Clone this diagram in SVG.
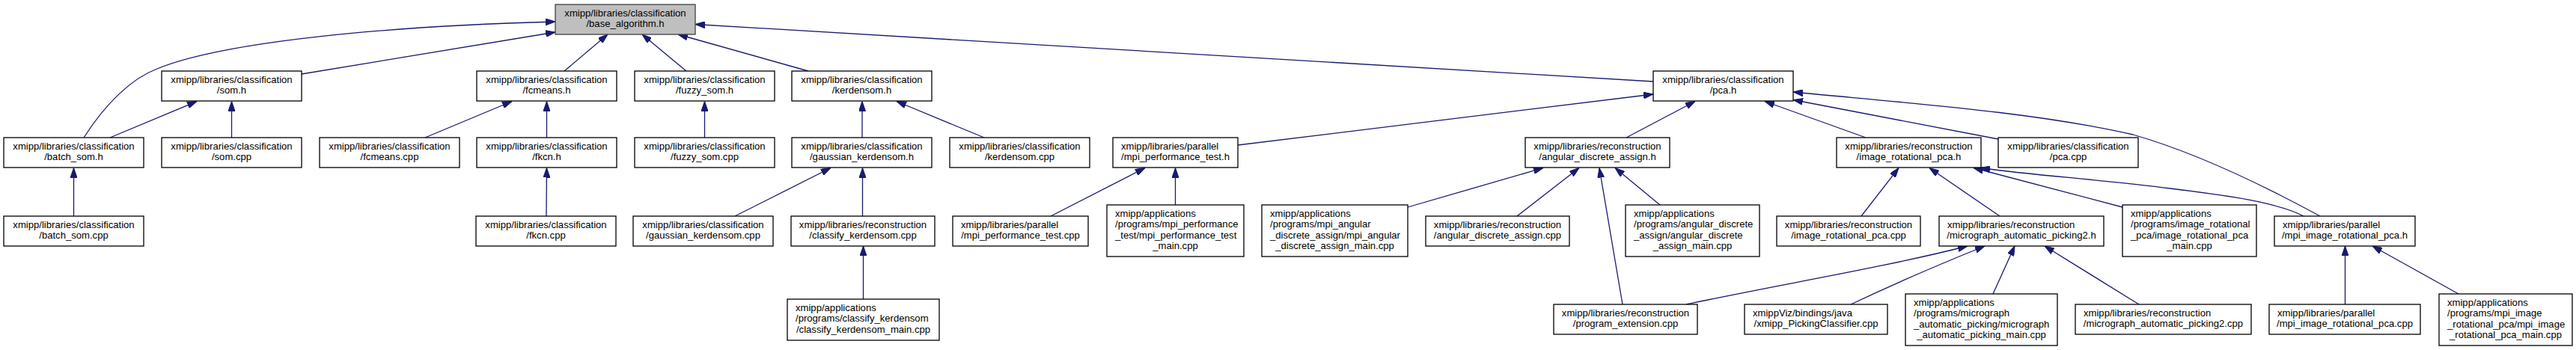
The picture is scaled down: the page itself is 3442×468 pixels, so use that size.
<svg xmlns="http://www.w3.org/2000/svg" width="3442" height="468" viewBox="0 0 3442 468">
<style>
.n rect{fill:#fff;stroke:#000;stroke-width:1.3}
#n_base rect{fill:#bfbfbf;stroke:#404040}
.n text{font-family:"Liberation Sans",Arial,sans-serif;font-size:13.1px;fill:#000}
.c{text-anchor:middle}
.e{fill:none;stroke:#191970;stroke-width:1.3;marker-end:url(#ah)}
</style>
<defs>
<marker id="ah" viewBox="0 0 13 9" refX="13" refY="4.5" markerWidth="13" markerHeight="9" markerUnits="userSpaceOnUse" orient="auto">
<path d="M0,0 L13,4.5 L0,9 z" fill="#191970" stroke="#191970" stroke-width="1"/>
</marker>
</defs>
<rect width="3442" height="468" fill="#fff"/>
<g id="connectors">
<path class="e" d="M112,184 C140,140 175,105 210,92 C300,55 520,35 742,29"/>
<path class="e" d="M403,99 L742,43"/>
<path class="e" d="M147,184 L263,135.5"/>
<path class="e" d="M309.5,184 L309.5,135.5"/>
<path class="e" d="M98.5,289 L98.5,224.5"/>
<path class="e" d="M754,95 L812,46"/>
<path class="e" d="M568,184 L684,135.5"/>
<path class="e" d="M730.5,184 L730.5,135.5"/>
<path class="e" d="M730,289 L730.5,224.5"/>
<path class="e" d="M917,95 L858,46"/>
<path class="e" d="M941.5,184 L941.5,135.5"/>
<path class="e" d="M1080,95 L906,46"/>
<path class="e" d="M1152,184 L1152,135.5"/>
<path class="e" d="M1315,184 L1198,135.5"/>
<path class="e" d="M982,289 L1110,224.5"/>
<path class="e" d="M1152.5,289 L1152.5,224.5"/>
<path class="e" d="M1153.5,400 L1153.5,329"/>
<path class="e" d="M2209,109 L929,32.5"/>
<path class="e" d="M1654,194 L2209,126"/>
<path class="e" d="M1404,289 L1530,224.5"/>
<path class="e" d="M1570.5,274 L1570.5,224.5"/>
<path class="e" d="M2173,184 L2265,135.5"/>
<path class="e" d="M1881,277 L2062,224.5"/>
<path class="e" d="M2027,289 L2110,224.5"/>
<path class="e" d="M2218,274 L2158,224.5"/>
<path class="e" d="M2168,407 L2137,224.5"/>
<path class="e" d="M2493,184 L2358,135.5"/>
<path class="e" d="M2670,186 L2396,133.5"/>
<path class="e" d="M3100,289 C3010,240 2920,200 2850,180 C2720,150 2550,138 2396,123"/>
<path class="e" d="M2487,289 L2537,224.5"/>
<path class="e" d="M2672,289 L2578,224.5"/>
<path class="e" d="M2836,277 L2637,224.5"/>
<path class="e" d="M3078,289 C3040,270 2980,262 2900,252 C2810,240 2720,235 2646,224.5"/>
<path class="e" d="M2663,393 L2692,329"/>
<path class="e" d="M2858,407 L2732,329"/>
<path class="e" d="M2253,407 C2380,380 2520,357 2629,329"/>
<path class="e" d="M2473,407 C2530,380 2600,350 2652,329"/>
<path class="e" d="M3133.5,407 L3133.5,329"/>
<path class="e" d="M3285,393 L3170,329"/>
</g>
<g id="n_base" class="n"><rect x="742" y="6" width="187" height="40"/><text class="c" x="835.5" y="21.7">xmipp/libraries/classification</text><text class="c" x="835.5" y="36.2">/base_algorithm.h</text></g>
<g id="n_som_h" class="n"><rect x="216" y="95" width="187" height="40"/><text class="c" x="309.5" y="110.7">xmipp/libraries/classification</text><text class="c" x="309.5" y="125.2">/som.h</text></g>
<g id="n_fcmeans_h" class="n"><rect x="637" y="95" width="187" height="40"/><text class="c" x="730.5" y="110.7">xmipp/libraries/classification</text><text class="c" x="730.5" y="125.2">/fcmeans.h</text></g>
<g id="n_fuzzy_som_h" class="n"><rect x="848" y="95" width="187" height="40"/><text class="c" x="941.5" y="110.7">xmipp/libraries/classification</text><text class="c" x="941.5" y="125.2">/fuzzy_som.h</text></g>
<g id="n_kerdensom_h" class="n"><rect x="1058" y="95" width="187" height="40"/><text class="c" x="1151.5" y="110.7">xmipp/libraries/classification</text><text class="c" x="1151.5" y="125.2">/kerdensom.h</text></g>
<g id="n_pca_h" class="n"><rect x="2209" y="95" width="187" height="40"/><text class="c" x="2302.5" y="110.7">xmipp/libraries/classification</text><text class="c" x="2302.5" y="125.2">/pca.h</text></g>
<g id="n_batch_som_h" class="n"><rect x="5" y="184" width="187" height="40"/><text class="c" x="98.5" y="199.7">xmipp/libraries/classification</text><text class="c" x="98.5" y="214.2">/batch_som.h</text></g>
<g id="n_som_cpp" class="n"><rect x="216" y="184" width="187" height="40"/><text class="c" x="309.5" y="199.7">xmipp/libraries/classification</text><text class="c" x="309.5" y="214.2">/som.cpp</text></g>
<g id="n_fcmeans_cpp" class="n"><rect x="427" y="184" width="187" height="40"/><text class="c" x="520.5" y="199.7">xmipp/libraries/classification</text><text class="c" x="520.5" y="214.2">/fcmeans.cpp</text></g>
<g id="n_fkcn_h" class="n"><rect x="637" y="184" width="187" height="40"/><text class="c" x="730.5" y="199.7">xmipp/libraries/classification</text><text class="c" x="730.5" y="214.2">/fkcn.h</text></g>
<g id="n_fuzzy_som_cpp" class="n"><rect x="848" y="184" width="187" height="40"/><text class="c" x="941.5" y="199.7">xmipp/libraries/classification</text><text class="c" x="941.5" y="214.2">/fuzzy_som.cpp</text></g>
<g id="n_gaussian_kerdensom_h" class="n"><rect x="1058" y="184" width="187" height="40"/><text class="c" x="1151.5" y="199.7">xmipp/libraries/classification</text><text class="c" x="1151.5" y="214.2">/gaussian_kerdensom.h</text></g>
<g id="n_kerdensom_cpp" class="n"><rect x="1269" y="184" width="187" height="40"/><text class="c" x="1362.5" y="199.7">xmipp/libraries/classification</text><text class="c" x="1362.5" y="214.2">/kerdensom.cpp</text></g>
<g id="n_mpi_perf_h" class="n"><rect x="1487" y="184" width="167" height="40"/><text x="1498" y="199.7">xmipp/libraries/parallel</text><text class="c" x="1570.5" y="214.2">/mpi_performance_test.h</text></g>
<g id="n_ang_h" class="n"><rect x="2038" y="184" width="193" height="40"/><text class="c" x="2134.5" y="199.7">xmipp/libraries/reconstruction</text><text class="c" x="2134.5" y="214.2">/angular_discrete_assign.h</text></g>
<g id="n_irp_h" class="n"><rect x="2454" y="184" width="193" height="40"/><text class="c" x="2550.5" y="199.7">xmipp/libraries/reconstruction</text><text class="c" x="2550.5" y="214.2">/image_rotational_pca.h</text></g>
<g id="n_pca_cpp" class="n"><rect x="2670" y="184" width="187" height="40"/><text class="c" x="2763.5" y="199.7">xmipp/libraries/classification</text><text class="c" x="2763.5" y="214.2">/pca.cpp</text></g>
<g id="n_batch_som_cpp" class="n"><rect x="5" y="289" width="187" height="40"/><text class="c" x="98.5" y="304.7">xmipp/libraries/classification</text><text class="c" x="98.5" y="319.2">/batch_som.cpp</text></g>
<g id="n_fkcn_cpp" class="n"><rect x="636" y="289" width="187" height="40"/><text class="c" x="729.5" y="304.7">xmipp/libraries/classification</text><text class="c" x="729.5" y="319.2">/fkcn.cpp</text></g>
<g id="n_gk_cpp" class="n"><rect x="846" y="289" width="187" height="40"/><text class="c" x="939.5" y="304.7">xmipp/libraries/classification</text><text class="c" x="939.5" y="319.2">/gaussian_kerdensom.cpp</text></g>
<g id="n_ck_cpp" class="n"><rect x="1057" y="289" width="192" height="40"/><text class="c" x="1153" y="304.7">xmipp/libraries/reconstruction</text><text class="c" x="1153" y="319.2">/classify_kerdensom.cpp</text></g>
<g id="n_mpi_perf_cpp" class="n"><rect x="1273" y="289" width="181" height="40"/><text x="1284" y="304.7">xmipp/libraries/parallel</text><text class="c" x="1363.5" y="319.2">/mpi_performance_test.cpp</text></g>
<g id="n_mpi_perf_main" class="n"><rect x="1479" y="274" width="183" height="69"/><text x="1490" y="289.7">xmipp/applications</text><text x="1490" y="304.2">/programs/mpi_performance</text><text x="1490" y="318.7">_test/mpi_performance_test</text><text class="c" x="1570.5" y="333.2">_main.cpp</text></g>
<g id="n_mpi_ang_main" class="n"><rect x="1686" y="274" width="195" height="69"/><text x="1697" y="289.7">xmipp/applications</text><text x="1697" y="304.2">/programs/mpi_angular</text><text x="1697" y="318.7">_discrete_assign/mpi_angular</text><text class="c" x="1783.5" y="333.2">_discrete_assign_main.cpp</text></g>
<g id="n_ang_cpp" class="n"><rect x="1905" y="289" width="192" height="40"/><text class="c" x="2001" y="304.7">xmipp/libraries/reconstruction</text><text class="c" x="2001" y="319.2">/angular_discrete_assign.cpp</text></g>
<g id="n_ang_main" class="n"><rect x="2172" y="274" width="179" height="69"/><text x="2183" y="289.7">xmipp/applications</text><text x="2183" y="304.2">/programs/angular_discrete</text><text x="2183" y="318.7">_assign/angular_discrete</text><text class="c" x="2261.5" y="333.2">_assign_main.cpp</text></g>
<g id="n_irp_cpp" class="n"><rect x="2374" y="289" width="192" height="40"/><text class="c" x="2470" y="304.7">xmipp/libraries/reconstruction</text><text class="c" x="2470" y="319.2">/image_rotational_pca.cpp</text></g>
<g id="n_map2_h" class="n"><rect x="2591" y="289" width="220" height="40"/><text x="2602" y="304.7">xmipp/libraries/reconstruction</text><text class="c" x="2701" y="319.2">/micrograph_automatic_picking2.h</text></g>
<g id="n_irp_main" class="n"><rect x="2836" y="274" width="179" height="69"/><text x="2847" y="289.7">xmipp/applications</text><text x="2847" y="304.2">/programs/image_rotational</text><text x="2847" y="318.7">_pca/image_rotational_pca</text><text class="c" x="2925.5" y="333.2">_main.cpp</text></g>
<g id="n_mirp_h" class="n"><rect x="3039" y="289" width="188" height="40"/><text x="3050" y="304.7">xmipp/libraries/parallel</text><text class="c" x="3133" y="319.2">/mpi_image_rotational_pca.h</text></g>
<g id="n_ck_main" class="n"><rect x="1052" y="400" width="203" height="55"/><text x="1063" y="415.7">xmipp/applications</text><text x="1063" y="430.2">/programs/classify_kerdensom</text><text class="c" x="1153.5" y="444.7">/classify_kerdensom_main.cpp</text></g>
<g id="n_prog_ext" class="n"><rect x="2076" y="407" width="192" height="40"/><text class="c" x="2172" y="422.7">xmipp/libraries/reconstruction</text><text class="c" x="2172" y="437.2">/program_extension.cpp</text></g>
<g id="n_pick_cls" class="n"><rect x="2331" y="407" width="191" height="40"/><text x="2342" y="422.7">xmippViz/bindings/java</text><text class="c" x="2426.5" y="437.2">/xmipp_PickingClassifier.cpp</text></g>
<g id="n_map_main" class="n"><rect x="2546" y="393" width="203" height="69"/><text x="2557" y="408.7">xmipp/applications</text><text x="2557" y="423.2">/programs/micrograph</text><text x="2557" y="437.7">_automatic_picking/micrograph</text><text class="c" x="2647.5" y="452.2">_automatic_picking_main.cpp</text></g>
<g id="n_map2_cpp" class="n"><rect x="2773" y="407" width="235" height="40"/><text x="2784" y="422.7">xmipp/libraries/reconstruction</text><text class="c" x="2890.5" y="437.2">/micrograph_automatic_picking2.cpp</text></g>
<g id="n_mirp_cpp" class="n"><rect x="3032" y="407" width="202" height="40"/><text x="3043" y="422.7">xmipp/libraries/parallel</text><text class="c" x="3133" y="437.2">/mpi_image_rotational_pca.cpp</text></g>
<g id="n_mirp_main" class="n"><rect x="3259" y="393" width="178" height="69"/><text x="3270" y="408.7">xmipp/applications</text><text x="3270" y="423.2">/programs/mpi_image</text><text x="3270" y="437.7">_rotational_pca/mpi_image</text><text class="c" x="3348" y="452.2">_rotational_pca_main.cpp</text></g>
</svg>
